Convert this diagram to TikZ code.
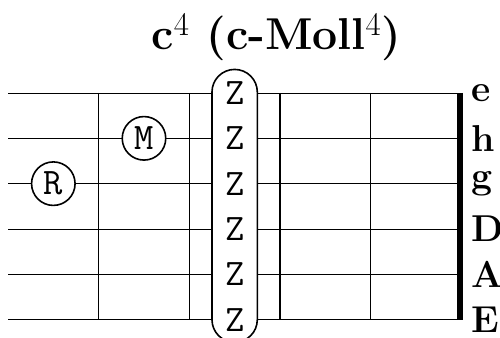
\documentclass[tikz,border=0pt]{standalone}
\begin{document}
\begin{tikzpicture}[
  stringline/.style={line width=0.6pt},
  fretline/.style={line width=1pt},
  nutline/.style={line width=3.6pt},
  finger/.style={circle,draw,line width=1pt,fill=white,minimum size=0.96cm,inner sep=0pt,
    font=\fontsize{23.5}{28}\selectfont\ttfamily},
  barre/.style={draw,line width=1pt,fill=white,rounded corners=14.2pt},
  zlabel/.style={inner sep=0pt,font=\fontsize{23.5}{28}\selectfont\ttfamily},
  slabel/.style={anchor=west,inner sep=0pt,font=\fontsize{23.5}{28}\selectfont\bfseries},
  titlestyle/.style={inner sep=0pt,anchor=base,font=\fontsize{28}{33}\selectfont\bfseries}
]
\useasboundingbox (-0.1765,-5.405) rectangle (10.854,2.0516);
% strings
\foreach \i in {0,...,5} {
  \coordinate (sl\i) at (0,-\i);
  \coordinate (sr\i) at (10,-\i);
  \draw[stringline] (sl\i) -- (sr\i);
}
% frets
\foreach \f in {2,4,6,8} {
  \coordinate (ft\f) at (\f,0);
  \coordinate (fb\f) at (\f,-5);
  \draw[fretline] (ft\f) -- (fb\f);
}
% nut
\coordinate (nt) at (9.97,0);
\coordinate (nb) at (9.97,-5);
\draw[nutline] (nt) -- (nb);
% barre
\draw[barre] (4.5,-5.5) rectangle (5.5,0.52);
\foreach \i in {0,...,5} {
  \node[zlabel] (z\i) at (5,-\i) {Z};
}
% fingers
\node[finger] (R) at (1,-2) {R};
\node[finger] (M) at (3,-1) {M};
% string labels
\node[slabel] (le) at (10.21,0) {e};
\node[slabel] (lh) at (10.21,-1) {h};
\node[slabel] (lg) at (10.21,-2) {g};
\node[slabel] (lD) at (10.21,-3) {D};
\node[slabel] (lA) at (10.21,-4) {A};
\node[slabel] (lE) at (10.21,-5) {E};
% title
\node[titlestyle] (title) at (5.92,0.95) {c$^4$ (c-Moll$^4$)};
\end{tikzpicture}
\end{document}
